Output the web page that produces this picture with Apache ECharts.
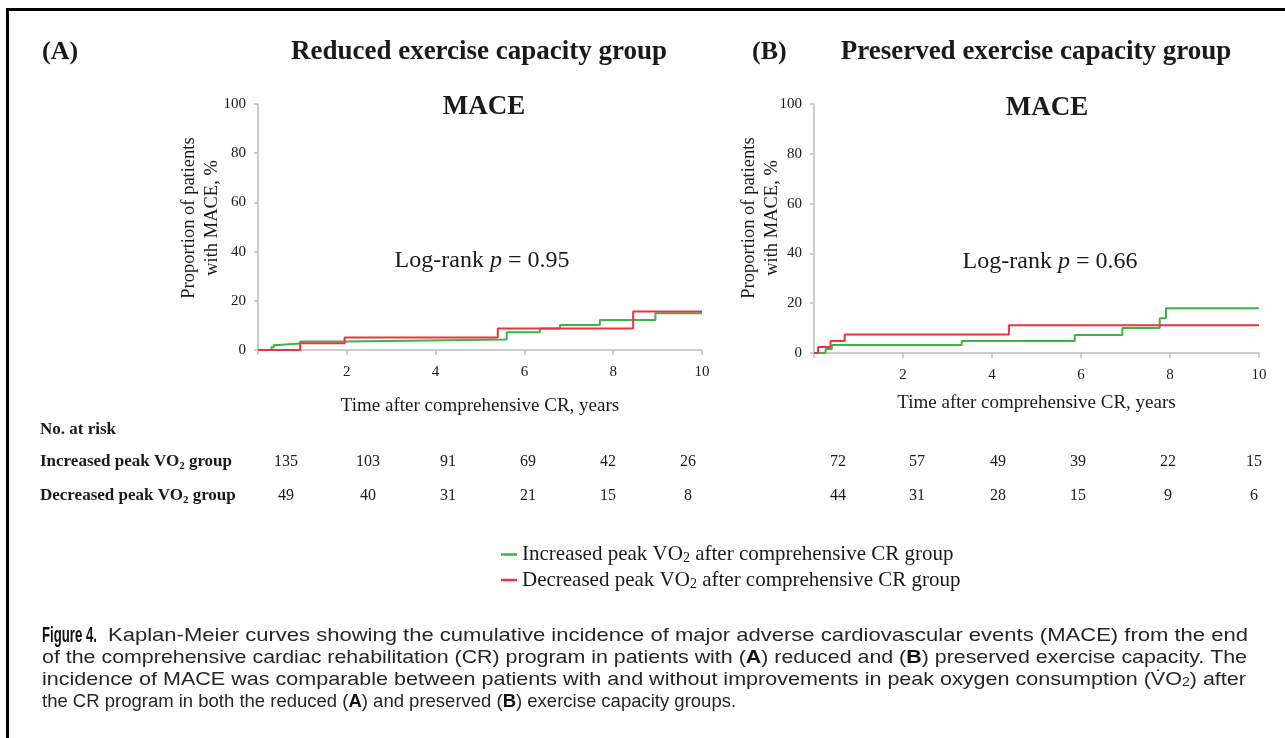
<!DOCTYPE html>
<html><head><meta charset="utf-8">
<script src="https://cdn.jsdelivr.net/npm/echarts@6/dist/echarts.min.js"></script>
<style>html,body{margin:0;padding:0;background:#fff}#c{width:1285px;height:738px}</style>
</head><body><div id="c"></div>
<script>
// ---------- data ----------
const nameInc = 'Increased peak VO2 after comprehensive CR group';
const nameDec = 'Decreased peak VO2 after comprehensive CR group';
// Panel A (reduced exercise capacity)
const aIncTime = [0, 0.30, 0.36, 0.45, 0.95, 2.0, 5.6, 6.35, 6.8, 7.7, 8.95, 10];
const aIncVal  = [0, 1.1, 2.0, 2.6, 3.5, 4.3, 7.2, 8.7, 10.2, 12.2, 14.9, 14.9];
const aDecTime = [0, 0.95, 1.95, 5.4, 8.45, 10];
const aDecVal  = [0, 2.7, 5.1, 8.7, 15.7, 15.7];
// Panel B (preserved exercise capacity)
const bIncTime = [0, 0.26, 0.40, 3.32, 5.86, 6.93, 7.77, 7.91, 10];
const bIncVal  = [0, 1.6, 3.2, 4.8, 7.2, 10.0, 14.0, 18.0, 18.0];
const bDecTime = [0, 0.09, 0.37, 0.69, 4.38, 10];
const bDecVal  = [0, 2.4, 4.8, 7.4, 11.1, 11.1];
// Numbers at risk
const riskAInc = [135, 103, 91, 69, 42, 26];
const riskADec = [49, 40, 31, 21, 15, 8];
const riskBInc = [72, 57, 49, 39, 22, 15];
const riskBDec = [44, 31, 28, 15, 9, 6];
const pA = '0.95', pB = '0.66';
// Caption lines: [text, style] segments (r regular, k bold, s small)
const capLine1 = [['Kaplan-Meier curves showing the cumulative incidence of major adverse cardiovascular events (MACE) from the end', 'r']];
const capLine2 = [['of the comprehensive cardiac rehabilitation (CR) program in patients with (', 'r'], ['A', 'k'], [') reduced and (', 'r'], ['B', 'k'], [') preserved exercise capacity. The', 'r']];
const capLine3 = [['incidence of MACE was comparable between patients with and without improvements in peak oxygen consumption (V\u0307O', 'r'], ['2', 's'], [') after', 'r']];
const capLine4 = [['the CR program in both the reduced (', 'r'], ['A', 'k'], [') and preserved (', 'r'], ['B', 'k'], [') exercise capacity groups.', 'r']];

// ---------- layout / style ----------
const SERIF = '"Liberation Serif","Times New Roman",serif';
const SANS = '"Liberation Sans",Arial,Helvetica,sans-serif';
const GREEN = '#3cb548', RED = '#ec3440', AXIS = '#bdbdbd', TXT = '#1a1a1a';
const riskXA = [286, 368, 448, 528, 608, 688];
const riskXB = [838, 917, 998, 1078, 1168, 1254];

function pts(t, v) { return t.map((x, i) => [x, v[i]]); }

const grids = [
  { left: 258, top: 104, width: 444, height: 246 },
  { left: 814, top: 104, width: 445, height: 249 }
];
function xAx(i, gap) {
  return {
    type: 'value', gridIndex: i, min: 0, max: 10, interval: 2,
    axisLine: { show: true, lineStyle: { color: AXIS, width: 1.5 } },
    axisTick: { show: true, length: 5, lineStyle: { color: AXIS, width: 1.5 } },
    axisLabel: { margin: 15, fontFamily: SERIF, fontSize: 15, color: TXT, formatter: v => v === 0 ? '' : String(v) },
    splitLine: { show: false },
    name: 'Time after comprehensive CR, years', nameLocation: 'middle', nameGap: gap,
    nameTextStyle: { fontFamily: SERIF, fontSize: 19, color: TXT }
  };
}
function yAx(i) {
  return {
    type: 'value', gridIndex: i, min: 0, max: 100, interval: 20,
    axisLine: { show: true, lineStyle: { color: AXIS, width: 1.5 } },
    axisTick: { show: true, length: 4, lineStyle: { color: AXIS, width: 1.5 } },
    axisLabel: { margin: 12, fontFamily: SERIF, fontSize: 15, color: TXT },
    splitLine: { show: false }
  };
}
function line(name, color, i, t, v) {
  return {
    type: 'line', name, xAxisIndex: i, yAxisIndex: i, step: 'end', symbol: 'none',
    data: pts(t, v), lineStyle: { color, width: 2 }, itemStyle: { color }, animation: false
  };
}

const graphics = [];
// frame
graphics.push({ type: 'line', shape: { x1: 7, y1: 9.5, x2: 1285, y2: 9.5 }, style: { stroke: '#000', lineWidth: 3 } });
graphics.push({ type: 'line', shape: { x1: 7.5, y1: 8, x2: 7.5, y2: 738 }, style: { stroke: '#000', lineWidth: 3 } });
function txt(x, y, text, font, align, extra) {
  graphics.push({ type: 'text', x, y, style: Object.assign({ text, font, fill: TXT, align: align || 'left', verticalAlign: 'middle' }, extra || {}) });
}
txt(42, 52, '(A)', 'bold 26px ' + SERIF);
txt(479, 52, 'Reduced exercise capacity group', 'bold 27px ' + SERIF, 'center');
txt(752, 52, '(B)', 'bold 26px ' + SERIF);
txt(1036, 52, 'Preserved exercise capacity group', 'bold 27px ' + SERIF, 'center');
txt(484, 107, 'MACE', 'bold 27px ' + SERIF, 'center');
txt(1047, 108, 'MACE', 'bold 27px ' + SERIF, 'center');
const rr = { n: { fontFamily: SERIF, fontSize: 24, fill: TXT }, i: { fontFamily: SERIF, fontSize: 24, fontStyle: 'italic', fill: TXT } };
graphics.push({ type: 'text', x: 482, y: 261, style: { text: '{n|Log-rank }{i|p}{n| = ' + pA + '}', rich: rr, align: 'center', verticalAlign: 'middle' } });
graphics.push({ type: 'text', x: 1050, y: 262, style: { text: '{n|Log-rank }{i|p}{n| = ' + pB + '}', rich: rr, align: 'center', verticalAlign: 'middle' } });
// y-axis names
[[200.5, 218], [760.5, 218]].forEach(([x, y]) => {
  graphics.push({ type: 'text', x, y, rotation: Math.PI / 2,
    style: { text: 'Proportion of patients\nwith MACE, %', font: '18.5px ' + SERIF, fill: TXT, align: 'center', verticalAlign: 'middle', lineHeight: 23 } });
});

// risk table
const tb = {
  b: { fontFamily: SERIF, fontSize: 17, fontWeight: 'bold', fill: TXT, lineHeight: 20, verticalAlign: 'middle' },
  s: { fontFamily: SERIF, fontSize: 11, fontWeight: 'bold', fill: TXT, lineHeight: 10, verticalAlign: 'bottom' }
};
txt(40, 430, 'No. at risk', 'bold 17px ' + SERIF);
graphics.push({ type: 'text', x: 40, y: 462, style: { text: '{b|Increased peak VO}{s|2}{b| group}', rich: tb, verticalAlign: 'middle' } });
graphics.push({ type: 'text', x: 40, y: 496, style: { text: '{b|Decreased peak VO}{s|2}{b| group}', rich: tb, verticalAlign: 'middle' } });
function riskRow(vals, xs, y) { vals.forEach((v, k) => txt(xs[k], y, String(v), '16px ' + SERIF, 'center')); }
riskRow(riskAInc, riskXA, 462);
riskRow(riskADec, riskXA, 496);
riskRow(riskBInc, riskXB, 462);
riskRow(riskBDec, riskXB, 496);

// caption (justified lines)
const CAPFS = 18.5;
const cap = {
  r: { fontFamily: SANS, fontSize: CAPFS, fill: '#262626' },
  k: { fontFamily: SANS, fontSize: CAPFS, fontWeight: 'bold', fill: '#111' },
  s: { fontFamily: SANS, fontSize: 12, fill: '#262626', padding: [6, 0, 0, 0] }
};
const mctx = document.createElement('canvas').getContext('2d');
function fontOf(st) { return (st.fontWeight === 'bold' ? 'bold ' : '') + st.fontSize + 'px ' + st.fontFamily; }
function segWidth(segs) { let w = 0; segs.forEach(([t, k]) => { mctx.font = fontOf(cap[k]); w += mctx.measureText(t).width; }); return w; }
function richOf(segs) { return segs.map(([t, k]) => '{' + k + '|' + t + '}').join(''); }
function capLine(segs, x, y, right) {
  const w = segWidth(segs);
  const sx = right ? (right - x) / w : 1;
  graphics.push({ type: 'text', x, y, scaleX: sx, style: { text: richOf(segs), rich: cap, verticalAlign: 'middle' } });
}
mctx.font = 'bold 22px ' + SANS;
const figW = mctx.measureText('Figure 4.').width;
graphics.push({ type: 'text', x: 42, y: 636, scaleX: 55 / figW, style: { text: 'Figure 4.', font: 'bold 22px ' + SANS, fill: '#111', verticalAlign: 'middle' } });
capLine(capLine1, 108, 636, 1248);
capLine(capLine2, 42, 658, 1247);
capLine(capLine3, 42, 680, 1246);
capLine(capLine4, 42, 702, null);

const legRich = {
  a: { fontFamily: SERIF, fontSize: 21, color: TXT, lineHeight: 22, verticalAlign: 'middle' },
  s: { fontFamily: SERIF, fontSize: 14, color: TXT, lineHeight: 10, verticalAlign: 'bottom' }
};

const option = {
  backgroundColor: '#fff',
  animation: false,
  grid: grids,
  xAxis: [xAx(0, 47), xAx(1, 41)],
  yAxis: [yAx(0), yAx(1)],
  legend: {
    orient: 'vertical', left: 496, top: 539, itemGap: 4, itemWidth: 16, itemHeight: 2.5, icon: 'rect',
    data: [nameInc, nameDec], selectedMode: false,
    formatter: n => n === nameInc ? '{a|Increased peak VO}{s|2}{a| after comprehensive CR group}' : '{a|Decreased peak VO}{s|2}{a| after comprehensive CR group}',
    textStyle: { rich: legRich }
  },
  series: [
    line(nameInc, GREEN, 0, aIncTime, aIncVal),
    line(nameDec, RED, 0, aDecTime, aDecVal),
    line(nameInc, GREEN, 1, bIncTime, bIncVal),
    line(nameDec, RED, 1, bDecTime, bDecVal)
  ],
  graphic: graphics
};
const chart = echarts.init(document.getElementById('c'), null, { renderer: 'canvas' });
chart.setOption(option);
</script></body></html>
